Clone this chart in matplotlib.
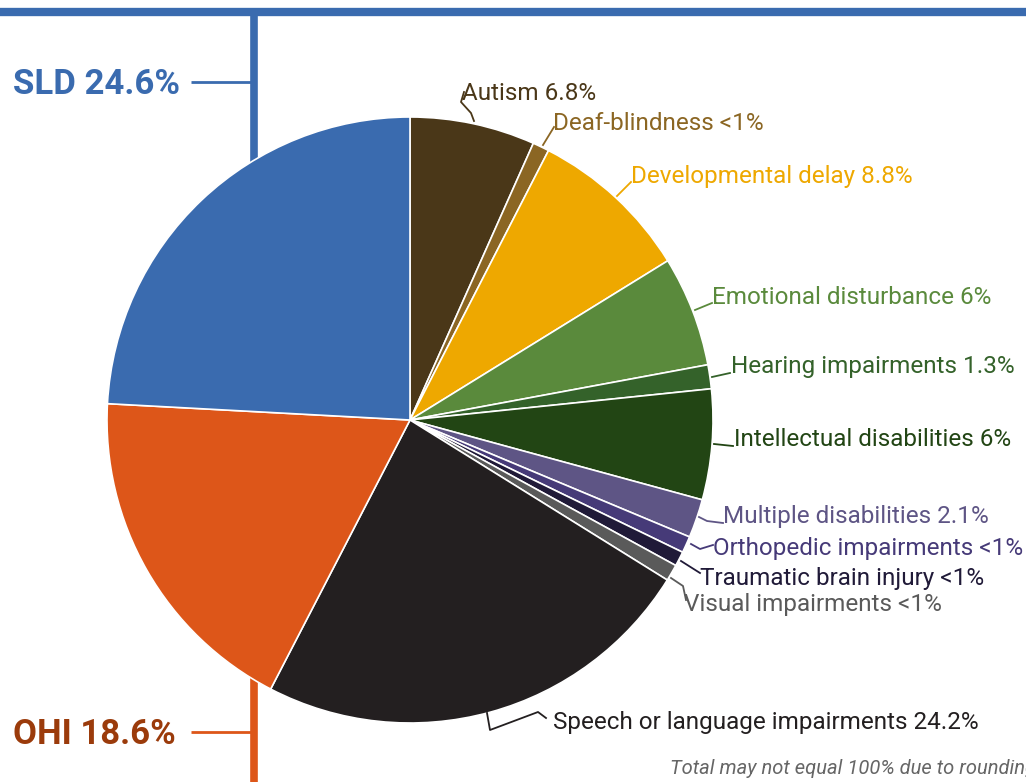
import matplotlib.pyplot as plt

plt.rcParams["font.family"] = ["Roboto", "DejaVu Sans"]

# slices clockwise from 12 o'clock
categories = [
    "Autism", "Deaf-blindness", "Developmental delay", "Emotional disturbance",
    "Hearing impairments", "Intellectual disabilities", "Multiple disabilities",
    "Orthopedic impairments", "Traumatic brain injury", "Visual impairments",
    "Speech or language impairments", "OHI", "SLD",
]
shares = [6.8, 0.9, 8.8, 6.0, 1.3, 6.0, 2.1, 0.9, 0.8, 0.9, 24.2, 18.6, 24.6]
share_text = ["6.8%", "<1%", "8.8%", "6%", "1.3%", "6%", "2.1%", "<1%", "<1%", "<1%",
              "24.2%", "18.6%", "24.6%"]
colors = ["#4a3718", "#8b6623", "#eea800", "#5a8a3c", "#34622a", "#224514", "#5e5585",
          "#463a78", "#201a38", "#5a5a5a", "#231f20", "#dd5619", "#3a6baf"]

# label anchor (left, middle) and leader line, in pixels
label_pos = [(462, 94), (553, 123), (631, 177), (712, 297), (731, 366), (734, 439),
             (723, 517), (713, 549), (700, 578), (684, 605), (553, 723)]
leaders = [
    [(474, 121), (471, 113), (461, 102), (464, 92)],
    [(543, 145), (554, 127)],
    [(617, 196), (631, 182)],
    [(695, 310), (712, 303)],
    [(712, 377), (730, 373)],
    [(714, 444), (733, 446)],
    [(699, 517), (707, 521), (723, 523)],
    [(691, 544), (700, 549), (713, 545)],
    [(681, 561), (700, 573)],
    [(671, 578), (683, 586), (686, 600)],
    [(487, 713), (490, 730), (538, 712), (546, 718)],
]

W, H = 1026, 782
fig = plt.figure(figsize=(W / 100, H / 100), dpi=100)
ax = fig.add_axes([0, 0, 1, 1])

# top rule and the two big-label stems
ax.plot([0, W], [12, 12], color="#3a6baf", lw=6, solid_capstyle="butt", zorder=0)
ax.plot([253.5, 253.5], [12, 200], color="#3a6baf", lw=5.5, solid_capstyle="butt", zorder=0)
ax.plot([191, 253], [82, 82], color="#3a6baf", lw=2, solid_capstyle="butt", zorder=0)
ax.plot([253.5, 253.5], [640, H], color="#dd5619", lw=5.5, solid_capstyle="butt", zorder=0)
ax.plot([191, 253], [732, 732], color="#dd5619", lw=2, solid_capstyle="butt", zorder=0)

# y axis is flipped, so counterclock in data reads clockwise on screen
ax.pie(shares, colors=colors, startangle=-90, counterclock=True, radius=303,
       center=(410, 420), wedgeprops=dict(edgecolor="white", linewidth=1.2))

for i, (x, y) in enumerate(label_pos):
    pts = leaders[i]
    ax.plot([p[0] for p in pts], [p[1] for p in pts], color=colors[i], lw=1.3, zorder=3)
    ax.text(x, y, f"{categories[i]} {share_text[i]}", color=colors[i], fontsize=17.5,
            ha="left", va="center")

ax.text(13, 84, f"SLD {share_text[12]}", color="#3a6baf", fontsize=25, fontweight="bold",
        ha="left", va="center")
ax.text(13, 734, f"OHI {share_text[11]}", color="#9b3b0b", fontsize=25, fontweight="bold",
        ha="left", va="center")

ax.text(670, 769, "Total may not equal 100% due to rounding.", color="#666666",
        fontsize=14.5, style="italic", ha="left", va="center")

ax.set_xlim(0, W)
ax.set_ylim(H, 0)
ax.set_aspect("auto")
ax.axis("off")
fig.savefig("out.png", dpi=100)
plt.close(fig)
